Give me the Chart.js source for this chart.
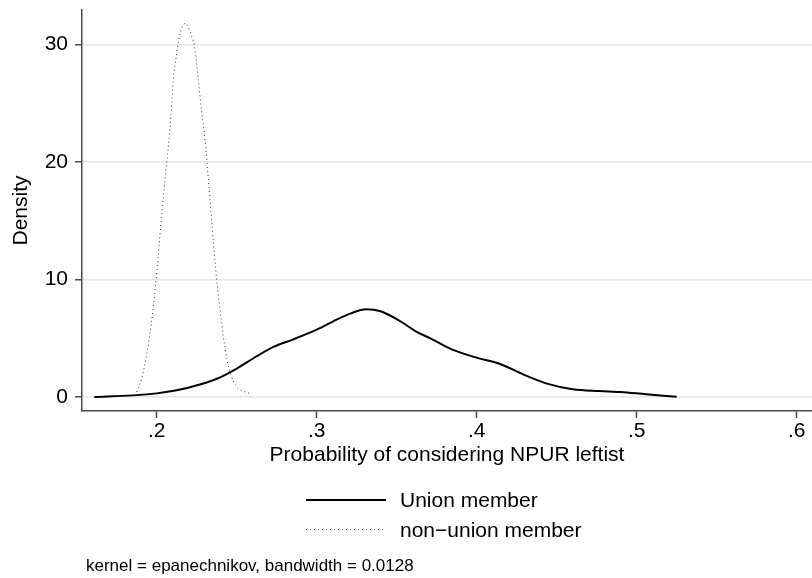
<!DOCTYPE html>
<html>
<head>
<meta charset="utf-8">
<script src="https://cdn.jsdelivr.net/npm/chart.js@4/dist/chart.umd.min.js"></script>
<style>
  html, body { margin: 0; padding: 0; background: #fff; }
  #wrap { position: relative; width: 812px; height: 578px; overflow: hidden; font-family: 'Liberation Sans', Arial, Helvetica, sans-serif; color: #000; }
  #densityChart { position: absolute; left: 0; top: 0; }
  .leg-line { position: absolute; left: 306px; width: 80px; }
  .leg-solid { top: 499px; height: 2px; background: #000; }
  .leg-dot { top: 529px; height: 1px; background: repeating-linear-gradient(to right, #666 0 1px, transparent 1px 4px); }
  .leg-text { position: absolute; left: 400px; font-size: 21px; line-height: 21px; white-space: nowrap; }
  #note { position: absolute; left: 86px; top: 557px; font-size: 17px; line-height: 17px; white-space: nowrap; }
</style>
</head>
<body>
<div id="wrap">
  <canvas id="densityChart" width="812" height="578"></canvas>
  <div class="leg-line leg-solid"></div>
  <div class="leg-text" style="top:489px">Union member</div>
  <div class="leg-line leg-dot"></div>
  <div class="leg-text" style="top:519px">non−union member</div>
  <div id="note">kernel = epanechnikov, bandwidth = 0.0128</div>
</div>
<script>
// Kernel density estimates
const unionX = [0.161, 0.185, 0.200, 0.2125, 0.227, 0.240, 0.250, 0.2625, 0.273, 0.285, 0.300, 0.3125, 0.321, 0.331,
  0.340, 0.352, 0.3625, 0.371, 0.384, 0.400, 0.415, 0.429, 0.444, 0.460, 0.477, 0.490, 0.506, 0.525];
const unionY = [0.0, 0.14, 0.31, 0.57, 1.06, 1.7, 2.42, 3.47, 4.26, 4.89, 5.74, 6.59, 7.1, 7.47,
  7.3, 6.47, 5.55, 5.0, 4.08, 3.35, 2.79, 1.93, 1.14, 0.66, 0.51, 0.43, 0.23, 0.02];

const nonUnionX = [0.1875, 0.1906, 0.1938, 0.1969, 0.199, 0.201, 0.2031, 0.2052, 0.2083, 0.2104, 0.2125, 0.2146, 0.2177,
  0.2198, 0.2219, 0.224, 0.226, 0.228, 0.2302, 0.2333, 0.2354, 0.2375, 0.2396, 0.2417, 0.2438, 0.2469, 0.25, 0.254, 0.2583];
const nonUnionY = [0.43, 1.57, 3.7, 6.53, 9.09, 12.1, 15.5, 18.5, 22.9, 27.0, 29.25, 30.95, 31.8,
  31.46, 30.7, 29.5, 27.0, 24.4, 21.9, 16.8, 13.35, 9.94, 7.38, 5.11, 3.27, 1.70, 0.85, 0.51, 0.29];

const xTicks = [0.2, 0.3, 0.4, 0.5, 0.6];
const yTicks = [0, 10, 20, 30];
const seriesNames = ['Union member', 'non−union member'];

function toPoints(xs, ys) {
  return xs.map((x, i) => ({ x: x, y: ys[i] }));
}

// label like Stata: .2 instead of 0.2
function stataLabel(v) {
  return String(Math.round(v * 10) / 10).replace(/^0\./, '.');
}

Chart.defaults.font.family = "'Liberation Sans', Arial, Helvetica, sans-serif";
Chart.defaults.font.size = 21;
Chart.defaults.color = '#000';

const axisColor = '#4a4a4a';

new Chart(document.getElementById('densityChart'), {
  type: 'line',
  data: {
    datasets: [
      {
        label: seriesNames[0],
        data: toPoints(unionX, unionY),
        borderColor: '#000',
        borderWidth: 2,
        pointRadius: 0,
        cubicInterpolationMode: 'monotone'
      },
      {
        label: seriesNames[1],
        data: toPoints(nonUnionX, nonUnionY),
        borderColor: '#333',
        borderWidth: 1,
        borderDash: [1, 3],
        pointRadius: 0,
        cubicInterpolationMode: 'monotone'
      }
    ]
  },
  options: {
    responsive: false,
    animation: false,
    devicePixelRatio: 1,
    layout: { padding: { top: 10, left: 0, right: 0, bottom: 110.4 } },
    plugins: {
      legend: { display: false },
      tooltip: { enabled: false }
    },
    scales: {
      x: {
        type: 'linear',
        min: 0.1533,
        max: 0.6096,
        afterBuildTicks: function(scale) {
          scale.ticks = xTicks.map(v => ({ value: v }));
        },
        afterFit: function(scale) {
          scale.height = 56.6;
          scale.paddingLeft = 0;
          scale.paddingRight = 0;
        },
        grid: { drawOnChartArea: false, tickLength: 7, tickColor: axisColor, tickWidth: 1.5 },
        border: { display: true, color: axisColor, width: 1.5 },
        ticks: { padding: 1, maxRotation: 0, callback: v => stataLabel(v) },
        title: {
          display: true,
          text: 'Probability of considering NPUR leftist',
          padding: { top: 0, bottom: 0 }
        }
      },
      y: {
        min: -1.19,
        max: 32.94,
        afterBuildTicks: function(scale) {
          scale.ticks = yTicks.map(v => ({ value: v }));
        },
        afterFit: function(scale) {
          scale.width = 82;
          scale.paddingTop = 0;
          scale.paddingBottom = 0;
        },
        grid: { color: '#e4e4e4', lineWidth: 1.5, tickLength: 7, tickColor: axisColor, tickWidth: 1.5 },
        border: { display: true, color: axisColor, width: 1.5 },
        ticks: { padding: 7 },
        title: {
          display: true,
          text: 'Density',
          padding: { top: 8.4, bottom: 0 }
        }
      }
    }
  }
});
</script>
</body>
</html>
